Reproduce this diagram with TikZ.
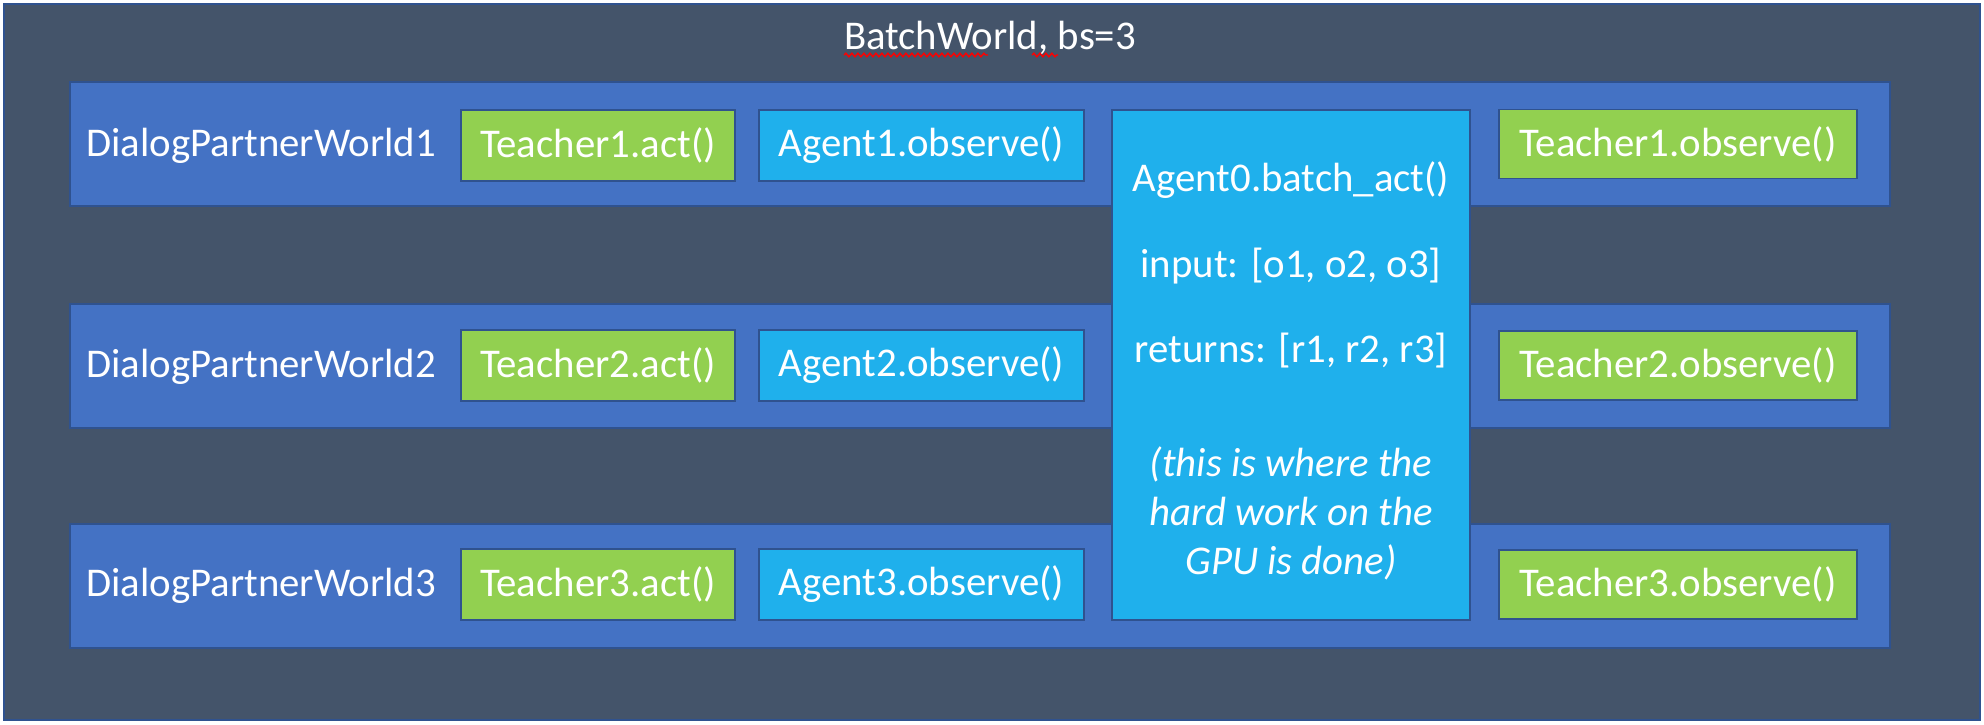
\documentclass[tikz,border=0pt]{standalone}
\usepackage{fontspec}
\setmainfont{Carlito}
\usetikzlibrary{decorations.pathmorphing}
\definecolor{SlateBg}{HTML}{44546A}
\definecolor{EdgeBlue}{HTML}{2F528F}
\definecolor{WorldBlue}{HTML}{4472C4}
\definecolor{ActGreen}{HTML}{92D050}
\definecolor{AgentCyan}{HTML}{1FB0EC}

\begin{document}
\begin{tikzpicture}[x=0.5pt, y=-0.5pt, font=\fontsize{20.4}{24.5}\selectfont,
  batch/.style={draw=EdgeBlue, line width=1pt, fill=SlateBg, minimum width=988pt, minimum height=358pt, inner sep=0pt},
  world/.style={draw=EdgeBlue, line width=0.8pt, fill=WorldBlue, minimum width=910pt, minimum height=62pt, inner sep=0pt},
  lbl/.style={text=white, anchor=west, inner sep=0pt},
  tact/.style={draw=EdgeBlue, line width=0.8pt, fill=ActGreen, text=white, minimum width=137pt, minimum height=35.5pt, inner sep=0pt},
  aobs/.style={draw=EdgeBlue, line width=0.8pt, fill=AgentCyan, text=white, minimum width=162.5pt, minimum height=35.5pt, inner sep=0pt},
  tobs/.style={draw=EdgeBlue, line width=0.8pt, fill=ActGreen, text=white, minimum width=179pt, minimum height=34.5pt, inner sep=0pt},
  squig/.style={draw=red, line width=0.7pt, decorate, decoration={snake, amplitude=0.9pt, segment length=3pt}}]
  \useasboundingbox (0,0) rectangle (1984,724);
  \node[batch] (bw) at (992,362) {};
  \node[text=white] (title) at (990,38) {BatchWorld, bs=3};
  \draw[squig] (844,55) -- (988,55);
  \draw[squig] (1032,55) -- (1058,55);

  \node[world] (w1) at (980,144) {};
  \node[world] (w2) at (980,366) {};
  \node[world] (w3) at (980,586) {};

  \node[lbl] (l1) at (86,146) {DialogPartnerWorld1};
  \node[lbl] (l2) at (86,367) {DialogPartnerWorld2};
  \node[lbl] (l3) at (86,586) {DialogPartnerWorld3};

  \node[tact] (ta1) at (598,145.5) {Teacher1.act()};
  \node[tact] (ta2) at (598,365.5) {Teacher2.act()};
  \node[tact] (ta3) at (598,584.5) {Teacher3.act()};

  \node[aobs] (ao1) at (921.5,145.5) {Agent1.observe()};
  \node[aobs] (ao2) at (921.5,365.5) {Agent2.observe()};
  \node[aobs] (ao3) at (921.5,584.5) {Agent3.observe()};

  \node[draw=EdgeBlue, line width=0.8pt, fill=AgentCyan,
        minimum width=179pt, minimum height=255pt, inner sep=0pt] (a0) at (1291,365) {};
  \node[text=white, align=center, inner sep=0pt] (a0text) at (1291,371)
    {Agent0.batch\_act()\\[18.3pt]input: [o1, o2, o3]\\[18.3pt]returns: [r1, r2, r3]\\[32.5pt]
     \itshape (this is where the\\\itshape hard work on the\\\itshape GPU is done)};

  \node[tobs] (to1) at (1678,144) {Teacher1.observe()};
  \node[tobs] (to2) at (1678,365.5) {Teacher2.observe()};
  \node[tobs] (to3) at (1678,584.5) {Teacher3.observe()};
\end{tikzpicture}
\end{document}
